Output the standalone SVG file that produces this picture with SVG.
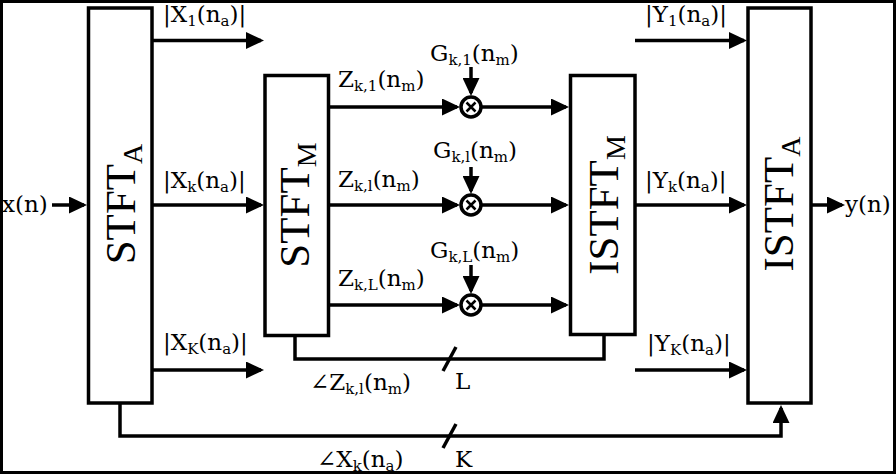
<svg xmlns="http://www.w3.org/2000/svg" width="896" height="474" viewBox="0 0 896 474">
<style>
.box{fill:#fff;stroke:#000;stroke-width:3.5}
.ln{fill:none;stroke:#000;stroke-width:3.5}
.arr{marker-end:url(#ah)}
.big{font-family:"Liberation Serif","Times New Roman",serif;font-size:43px;fill:#000;text-anchor:middle}
.bsub{font-size:28px}
.lb{font-family:"DejaVu Serif","Liberation Serif",serif;font-size:23px;fill:#000}
.s{font-size:15px}
.mul{fill:#fff;stroke:#000;stroke-width:3.5}
.mx{stroke:#000;stroke-width:2.5}
</style>
<defs>
<marker id="ah" markerUnits="userSpaceOnUse" markerWidth="18" markerHeight="17" refX="15" refY="8.5" orient="auto">
<path d="M0,0 L18,8.5 L0,17 Z" fill="#000"/>
</marker>
</defs>
<rect x="0" y="0" width="896" height="474" fill="#fff"/>
<rect x="0" y="0" width="896" height="474" fill="none" stroke="#000" stroke-width="6"/>

<g id="connectors">
<line class="ln arr" x1="52" y1="205" x2="84" y2="205"/>
<line class="ln arr" x1="152" y1="40.5" x2="261" y2="40.5"/>
<line class="ln arr" x1="152" y1="205" x2="261" y2="205"/>
<line class="ln arr" x1="152" y1="370" x2="261" y2="370"/>
<line class="ln arr" x1="328" y1="107" x2="457" y2="107"/>
<line class="ln arr" x1="328" y1="205" x2="457" y2="205"/>
<line class="ln arr" x1="328" y1="305" x2="457" y2="305"/>
<line class="ln arr" x1="482" y1="107" x2="566" y2="107"/>
<line class="ln arr" x1="482" y1="205" x2="566" y2="205"/>
<line class="ln arr" x1="482" y1="305" x2="566" y2="305"/>
<line class="ln arr" x1="471" y1="67" x2="471" y2="93"/>
<line class="ln arr" x1="471" y1="167" x2="471" y2="191"/>
<line class="ln arr" x1="471" y1="265" x2="471" y2="291"/>
<line class="ln arr" x1="635" y1="40.5" x2="744" y2="40.5"/>
<line class="ln arr" x1="635" y1="205" x2="744" y2="205"/>
<line class="ln arr" x1="635" y1="370" x2="744" y2="370"/>
<line class="ln arr" x1="811" y1="205" x2="842" y2="205"/>
<polyline class="ln" points="295,335.5 295,359 604,359 604,334.5"/>
<polyline class="ln arr" points="120,403 120,436 781,436 781,408"/>
<line class="ln" x1="443" y1="371" x2="456" y2="347"/>
<line class="ln" x1="443" y1="448" x2="456" y2="424"/>
</g>

<g id="stft-a">
<rect class="box" x="88.5" y="8" width="63.5" height="395"/>
<text class="big" transform="translate(135,204) rotate(-90)">STFT<tspan class="bsub" dy="7">A</tspan></text>
</g>
<g id="stft-m">
<rect class="box" x="265" y="75.5" width="63.5" height="260"/>
<text class="big" transform="translate(309,205) rotate(-90)">STFT<tspan class="bsub" dy="7">M</tspan></text>
</g>
<g id="istft-m">
<rect class="box" x="570.5" y="75.5" width="64.5" height="259"/>
<text class="big" transform="translate(618,205) rotate(-90)">ISTFT<tspan class="bsub" dy="7">M</tspan></text>
</g>
<g id="istft-a">
<rect class="box" x="748" y="8" width="63" height="395"/>
<text class="big" transform="translate(793,204) rotate(-90)">ISTFT<tspan class="bsub" dy="7">A</tspan></text>
</g>

<g id="mult-1">
<circle class="mul" cx="471" cy="107" r="10"/>
<path class="mx" d="M466.5,102.5 L475.5,111.5 M475.5,102.5 L466.5,111.5"/>
</g>
<g id="mult-l">
<circle class="mul" cx="471" cy="205" r="10"/>
<path class="mx" d="M466.5,200.5 L475.5,209.5 M475.5,200.5 L466.5,209.5"/>
</g>
<g id="mult-L">
<circle class="mul" cx="471" cy="305" r="10"/>
<path class="mx" d="M466.5,300.5 L475.5,309.5 M475.5,300.5 L466.5,309.5"/>
</g>

<g id="labels">
<text class="lb" x="2" y="212">x(n)</text>
<text class="lb" x="845" y="212">y(n)</text>
<text class="lb" x="163" y="22">|X<tspan class="s" dy="4">1</tspan><tspan dy="-4">(n</tspan><tspan class="s" dy="4">a</tspan><tspan dy="-4">)|</tspan></text>
<text class="lb" x="163" y="188">|X<tspan class="s" dy="4">k</tspan><tspan dy="-4">(n</tspan><tspan class="s" dy="4">a</tspan><tspan dy="-4">)|</tspan></text>
<text class="lb" x="163" y="350">|X<tspan class="s" dy="4">K</tspan><tspan dy="-4">(n</tspan><tspan class="s" dy="4">a</tspan><tspan dy="-4">)|</tspan></text>
<text class="lb" x="645" y="22">|Y<tspan class="s" dy="4">1</tspan><tspan dy="-4">(n</tspan><tspan class="s" dy="4">a</tspan><tspan dy="-4">)|</tspan></text>
<text class="lb" x="645" y="188">|Y<tspan class="s" dy="4">k</tspan><tspan dy="-4">(n</tspan><tspan class="s" dy="4">a</tspan><tspan dy="-4">)|</tspan></text>
<text class="lb" x="647" y="351">|Y<tspan class="s" dy="4">K</tspan><tspan dy="-4">(n</tspan><tspan class="s" dy="4">a</tspan><tspan dy="-4">)|</tspan></text>
<text class="lb" x="338" y="87">Z<tspan class="s" dy="4">k,1</tspan><tspan dy="-4">(n</tspan><tspan class="s" dy="4">m</tspan><tspan dy="-4">)</tspan></text>
<text class="lb" x="338" y="187">Z<tspan class="s" dy="4">k,l</tspan><tspan dy="-4">(n</tspan><tspan class="s" dy="4">m</tspan><tspan dy="-4">)</tspan></text>
<text class="lb" x="338" y="286">Z<tspan class="s" dy="4">k,L</tspan><tspan dy="-4">(n</tspan><tspan class="s" dy="4">m</tspan><tspan dy="-4">)</tspan></text>
<text class="lb" x="430" y="61">G<tspan class="s" dy="4">k,1</tspan><tspan dy="-4">(n</tspan><tspan class="s" dy="4">m</tspan><tspan dy="-4">)</tspan></text>
<text class="lb" x="433" y="158">G<tspan class="s" dy="4">k,l</tspan><tspan dy="-4">(n</tspan><tspan class="s" dy="4">m</tspan><tspan dy="-4">)</tspan></text>
<text class="lb" x="430" y="258">G<tspan class="s" dy="4">k,L</tspan><tspan dy="-4">(n</tspan><tspan class="s" dy="4">m</tspan><tspan dy="-4">)</tspan></text>
<text class="lb" x="310" y="390">∠Z<tspan class="s" dy="4">k,l</tspan><tspan dy="-4">(n</tspan><tspan class="s" dy="4">m</tspan><tspan dy="-4">)</tspan></text>
<text class="lb" x="455" y="389">L</text>
<text class="lb" x="317" y="467">∠X<tspan class="s" dy="4">k</tspan><tspan dy="-4">(n</tspan><tspan class="s" dy="4">a</tspan><tspan dy="-4">)</tspan></text>
<text class="lb" x="455" y="467">K</text>
</g>
</svg>
